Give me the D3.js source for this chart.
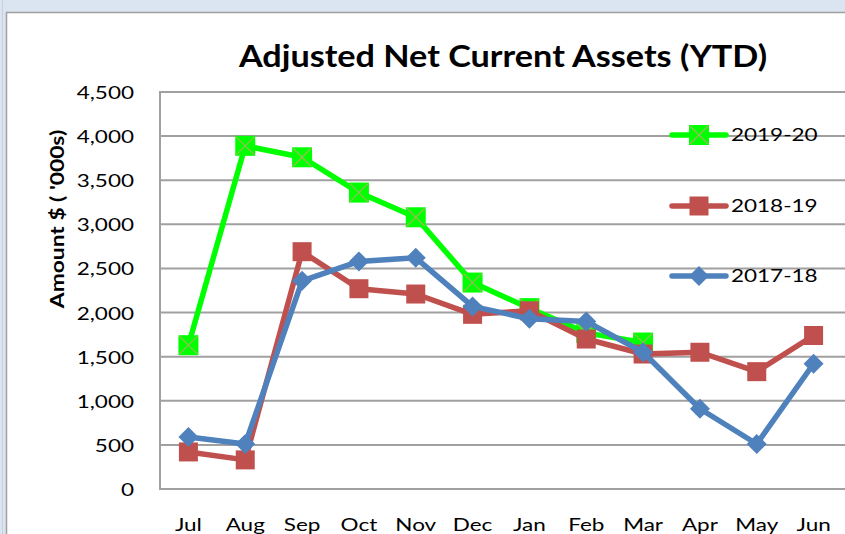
<!DOCTYPE html>
<html>
<head>
<meta charset="utf-8">
<script src="https://cdn.jsdelivr.net/npm/d3@7"></script>
<style>
  html, body { margin: 0; padding: 0; background: #dbe5f1; overflow: hidden; }
  svg { display: block; }
  text { font-family: Lato, "Open Sans", sans-serif; fill: #000; }
</style>
</head>
<body>
<script>
// chart data
var months = ["Jul","Aug","Sep","Oct","Nov","Dec","Jan","Feb","Mar","Apr","May","Jun"];
var yTicks = [0, 500, 1000, 1500, 2000, 2500, 3000, 3500, 4000, 4500];
var fy1920 = [1630, 3890, 3760, 3360, 3080, 2340, 2050, 1770, 1660];
var fy1819 = [420, 330, 2690, 2270, 2210, 1980, 2020, 1700, 1530, 1550, 1330, 1740];
var fy1718 = [590, 510, 2360, 2580, 2620, 2070, 1930, 1900, 1550, 910, 510, 1420];

// drawn bottom to top
var series = [
  { name: "2019-20", values: fy1920, color: "#00ff00", marker: "cross",   ly: 135 },
  { name: "2018-19", values: fy1819, color: "#c0504d", marker: "square",  ly: 206 },
  { name: "2017-18", values: fy1718, color: "#4f81bd", marker: "diamond", ly: 276 }
];

var w = 845, h = 534;
var pLeft = 160, pRight = 842, pTop = 92, pBottom = 489;
var sx = 1.25; // text in the reference is stretched sideways

var svg = d3.select("body").append("svg")
    .attr("width", w)
    .attr("height", h);

// chart area
svg.append("line")
   .attr("x1", 2.5).attr("x2", 2.5).attr("y1", 0).attr("y2", h)
   .attr("stroke", "#c8d0da").attr("stroke-width", 1);
svg.append("rect")
   .attr("x", 6.5).attr("y", 12.5)
   .attr("width", w + 10).attr("height", h + 10)
   .attr("fill", "#fff")
   .attr("stroke", "#a0a0a0")
   .attr("stroke-width", 1.5);

var x = d3.scaleBand().domain(months).range([pLeft, pRight]);
var y = d3.scaleLinear().domain([0, 4500]).range([pBottom, pTop]);
var cx = function(i) { return x(months[i]) + x.bandwidth() / 2; };

// gridlines
svg.append("g").selectAll("line").data(yTicks).enter().append("line")
   .attr("x1", pLeft).attr("x2", w)
   .attr("y1", function(d) { return y(d); })
   .attr("y2", function(d) { return y(d); })
   .attr("stroke", "#a0a0a0")
   .attr("stroke-width", 2);

// plot area left edge
svg.append("line")
   .attr("x1", pLeft).attr("x2", pLeft)
   .attr("y1", pTop - 1).attr("y2", pBottom + 1)
   .attr("stroke", "#a0a0a0").attr("stroke-width", 2);

// axes
var yAxis = svg.append("g")
    .attr("transform", "translate(" + (pLeft - 26) + ",0)")
    .call(d3.axisLeft(y).tickValues(yTicks).tickFormat(d3.format(",")).tickSize(0).tickPadding(0));
yAxis.select(".domain").remove();
yAxis.selectAll("text")
     .attr("x", 0)
     .attr("dy", "0.36em")
     .attr("transform", "scale(" + sx + ",1)")
     .style("font-size", "18px");

var xAxis = svg.append("g")
    .attr("transform", "translate(0," + (pBottom + 42) + ")")
    .call(d3.axisBottom(x).tickSize(0).tickPadding(0));
xAxis.select(".domain").remove();
xAxis.selectAll("text")
     .attr("y", 0)
     .attr("dy", 0)
     .attr("transform", "scale(" + sx + ",1)")
     .style("font-size", "18px");

// title
svg.append("g")
   .attr("transform", "translate(503,67) scale(1.14,1)")
   .append("text")
   .attr("text-anchor", "middle")
   .style("font-size", "30px").style("font-weight", "bold")
   .text("Adjusted Net Current Assets (YTD)");

// y label
svg.append("g")
   .attr("transform", "translate(64,219) rotate(-90) scale(1.2,1)")
   .append("text")
   .attr("text-anchor", "middle")
   .style("font-size", "19px").style("font-weight", "bold")
   .text("Amount $ ( '000s)");

function drawMarker(g, type, color, px, py) {
  if (type === "diamond") {
    g.append("path")
     .attr("d", "M" + px + "," + (py - 10) + "L" + (px + 10) + "," + py + "L" + px + "," + (py + 10) + "L" + (px - 10) + "," + py + "Z")
     .attr("fill", color);
  } else if (type === "square") {
    g.append("rect")
     .attr("x", px - 9.5).attr("y", py - 9.5).attr("width", 19).attr("height", 19)
     .attr("fill", color);
  } else {
    g.append("rect")
     .attr("x", px - 10).attr("y", py - 10).attr("width", 20).attr("height", 20)
     .attr("fill", color);
    g.append("path")
     .attr("d", "M" + (px - 9) + "," + (py - 9) + "L" + (px + 9) + "," + (py + 9) + "M" + (px + 9) + "," + (py - 9) + "L" + (px - 9) + "," + (py + 9))
     .attr("stroke", "#9bbb59").attr("stroke-width", 1.2);
  }
}

var line = d3.line()
    .x(function(d, i) { return cx(i); })
    .y(function(d) { return y(d); });

series.forEach(function(s) {
  var g = svg.append("g");
  g.append("path")
   .attr("d", line(s.values))
   .attr("fill", "none")
   .attr("stroke", s.color)
   .attr("stroke-width", 5.5)
   .attr("stroke-linejoin", "round");
  s.values.forEach(function(v, i) {
    drawMarker(g, s.marker, s.color, cx(i), y(v));
  });
});

// legend
series.forEach(function(s) {
  var g = svg.append("g");
  g.append("line")
   .attr("x1", 672).attr("x2", 726)
   .attr("y1", s.ly).attr("y2", s.ly)
   .attr("stroke", s.color).attr("stroke-width", 5.5)
   .attr("stroke-linecap", "round");
  drawMarker(g, s.marker, s.color, 699, s.ly);
  g.append("g")
   .attr("transform", "translate(731," + s.ly + ") scale(" + sx + ",1)")
   .append("text")
   .attr("dy", "0.36em")
   .style("font-size", "18px")
   .text(s.name);
});
</script>
</body>
</html>
